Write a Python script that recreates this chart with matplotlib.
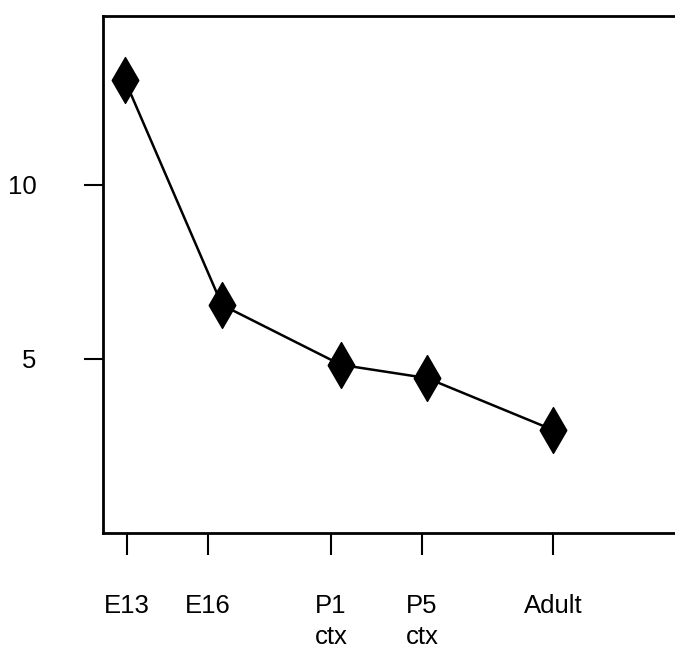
import numpy as np
import matplotlib.pyplot as plt
from matplotlib.path import Path

# stages on the x axis, positions in axis units (0..572)
stages = ['E13', 'E16', 'P1\nctx', 'P5\nctx', 'Adult']
tick_x = [24, 105, 228, 319, 450]
point_x = [22, 119, 238, 324, 450]
values = [13.0, 6.55, 4.83, 4.45, 2.96]

plt.rcParams['font.family'] = ['Liberation Sans', 'DejaVu Sans']

diamond = Path([(0, 1), (0.58, 0), (0, -1), (-0.58, 0), (0, 1)],
               [Path.MOVETO, Path.LINETO, Path.LINETO, Path.LINETO, Path.CLOSEPOLY])

fig = plt.figure(figsize=(6.75, 6.55), dpi=100)
ax = fig.add_axes([103/675, 1 - 533/655, 1 - 103/675, (533 - 16)/655])

ax.plot(point_x, values, color='black', lw=1.8, zorder=2)
ax.plot(point_x, values, ls='none', marker=diamond, ms=33, color='black', zorder=3)

ax.set_xlim(0, 572)
ax.set_ylim(0, 14.85)

ax.set_xticks(tick_x)
ax.set_xticklabels(stages, fontsize=18.5, linespacing=1.35, va='top')
ax.set_yticks([5, 10])
ax.set_yticklabels(['5', '10'], fontsize=18.5)

ax.tick_params(axis='x', direction='out', length=16, width=1.5, pad=28)
ax.tick_params(axis='y', direction='out', length=14, width=1.5, pad=34)

ax.spines['right'].set_visible(False)
for side in ['left', 'bottom', 'top']:
    ax.spines[side].set_linewidth(2)

fig.savefig('out.png', dpi=100)
